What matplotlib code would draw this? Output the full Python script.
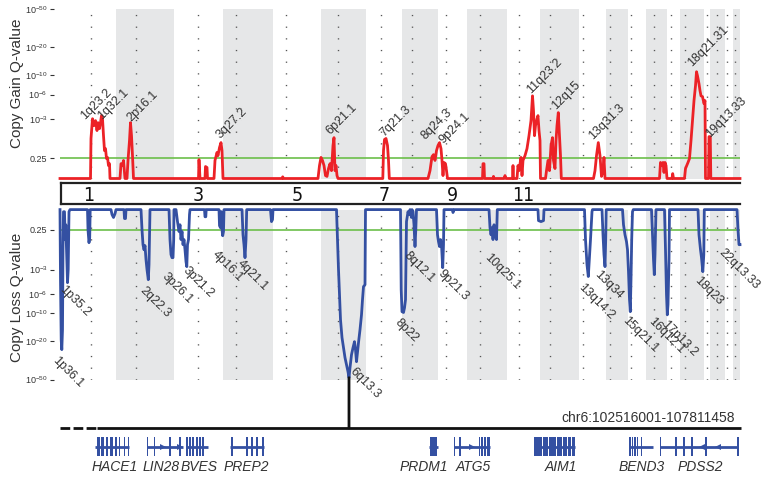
import numpy as np
import matplotlib
matplotlib.use('Agg')
import matplotlib.pyplot as plt
import matplotlib.transforms as mtransforms
from matplotlib.patches import Rectangle, ConnectionPatch

plt.rcParams['font.family'] = ['Liberation Sans', 'DejaVu Sans']

# genome layout (cumulative marker position)
chrom_names = [str(i) for i in range(1, 23)]
chrom_start = [0, 54, 112, 161, 211, 259, 304, 340, 376, 405, 445, 478,
               517, 544, 566, 584, 605, 618, 642, 648, 663, 671]
genome_end = 678
centromeres = [28.7, 74, 136.3, 174, 224, 276, 319, 350, 384, 418, 457, 488,
               521, 547.5, 569, 592.4, 609, 623, 644.7, 654.7, 665, 673]
labelled_chroms = ['1', '3', '5', '7', '9', '11']

# GISTIC q-values, stored as -log10(q)
gain_pos = [-2, 28.5, 29, 30.5, 32, 33.5, 35, 36, 37.5, 38.5, 39.5, 40.5, 41.5, 42.5, 43.5,
            44.5, 45.5, 46.5, 47.5, 48,
            58, 59, 60.5, 61.5, 63, 65, 66, 67.5, 68.5, 69.5, 70.5, 71.5,
            136.5, 137, 138, 143, 143.5, 145, 145.5, 152, 153, 155, 156, 157.5, 159, 160, 161,
            220, 220.7, 221.5,
            256, 257.5, 259, 260.5, 262, 263.5, 265, 266.5, 268, 269.5, 271, 272, 273, 274, 275, 276,
            320.8, 321.5, 322.5, 324, 325.5, 326.5, 327.3,
            366, 368, 370, 371.5, 373, 374.5, 376, 377.5, 379, 380, 381, 382, 383.5, 384.5, 385.5,
            420.5, 421, 422, 422.5, 431, 431.5, 432, 442, 443, 444,
            450.5, 451, 451.5, 455, 456, 457, 459, 460, 461, 463, 465, 467, 469, 470.5, 471.5,
            472.5, 473.5, 475, 476, 477, 478, 478.5,
            483.5, 484.5, 486, 487.5, 489, 490.5, 491.5, 493, 494, 495, 496.3, 497.5, 498.5, 499.3,
            531.5, 533, 534.5, 536.3, 538, 539.5, 541, 542, 543,
            597.5, 598.5, 600, 601, 602, 603, 604, 605, 610, 610.7, 611.5,
            622.5, 623.5, 626, 627.5, 629, 630.5, 632, 633.5, 634.5, 635.5, 637, 638, 639, 640.5,
            642, 643, 643.5,
            646.5, 647, 648.3, 648.8, 678]
gain_val = [0, 0, 1.53, 3.0, 2.41, 2.83, 2.04, 2.65, 2.18, 2.65, 3.30, 3.0, 1.70, 0.91, 1.0,
            0.59, 0.63, 0.35, 0.41, 0,
            0, 0.41, 0.35, 0.52, 0, 0, 0.52, 1.41, 2.65, 1.70, 0.70, 0,
            0, 0.55, 0, 0, 0.32, 0.29, 0, 0, 0.52, 0.83, 0.70, 1.05, 1.30, 0.91, 0,
            0, 0.04, 0,
            0, 0.35, 0.63, 0.52, 0.35, 0.07, 0.05, 0.26, 0.41, 0.20, 1.15, 1.58, 0.20, 0.35, 0.07, 0,
            0, 0.91, 1.47, 1.53, 1.15, 0.52, 0,
            0, 0.20, 0.66, 0.74, 0.52, 0.91, 1.15, 1.30, 1.0, 0.52, 0.07, 0.45, 0.41, 0.20, 0,
            0, 0.41, 0.41, 0, 0, 0.05, 0, 0, 0.07, 0,
            0, 0.35, 0, 0, 0.35, 0.20, 0.63, 0.07, 0.52, 0.70, 1.0, 1.70, 2.83, 5.80, 3.82,
            1.70, 2.41, 3.0, 3.30, 2.04, 1.41, 0,
            0, 0.20, 0.52, 0.20, 1.15, 1.58, 0.52, 0.26, 1.41, 2.41, 3.61, 1.70, 0.70, 0,
            0, 0.20, 0.70, 1.30, 0.70, 0.05, 0.20, 0.63, 0,
            0, 0.45, 0.35, 0.45, 0.15, 0.45, 0.35, 0, 0, 0.12, 0,
            0, 0.26, 0.45, 0.59, 1.41, 2.83, 5.09, 7.6, 10.9, 9.8, 8.0, 6.67, 5.80, 5.67,
            4.68, 5.09, 0,
            0, 1.64, 1.64, 0, 0]

loss_pos = [-2, -1.5, -0.8, -0.2, 0.5, 1, 1.5, 2.5, 3.2, 3.8, 4.5, 5.5, 6.2, 7, 8,
            25.5, 26, 27, 27.7, 28.2,
            49, 50, 51.5, 53, 54, 62, 62.5, 63.5, 64,
            79, 80, 81, 82, 83, 84, 85, 86.3, 87, 88,
            107, 108, 109, 110, 111, 111.7, 112,
            114, 115.5, 117, 118, 119, 120, 121, 122, 123, 124, 124.8, 125.5, 126.5, 127.5, 128,
            142.5, 143, 143.8, 144.2,
            157, 157.5, 158.5, 159, 159.5, 160, 160.7, 161.5, 162,
            180, 181, 182, 183, 184, 184.7,
            208.5, 209.5, 210.5, 211,
            274.5, 275.5, 276.5, 277.5, 278.5, 280, 281.5, 283, 284.5, 286, 287, 288, 289.5, 291,
            292.5, 293.5, 294.5, 295.5, 296.5, 298, 299.5, 300.5, 301.5, 303, 303.5,
            338.5, 339.2, 340, 341.5, 342.5, 343.5, 344.5, 346, 347, 348, 349.5, 350, 351, 352,
            353, 353.8, 354.5,
            374.5, 375.5, 376.5, 377.5, 378.5, 379.5, 380.7, 381.5, 382, 390.5, 391, 392,
            427, 428, 429, 430, 431, 432, 433, 434.5, 435.3,
            476, 476.5, 479, 481.5, 482,
            522.5, 523.5, 525, 526.3, 527.3, 528.5, 530, 530.5,
            540, 541, 542, 543, 543.7, 544.2,
            560.5, 561.5, 563, 564.5, 565.5, 566.5, 567.5, 568.3, 569, 569.7, 570.5, 571.3,
            589.5, 590.5, 591.5, 592.3, 593, 594,
            602.5, 603.5, 604.5, 605.3, 606, 607, 607.5,
            636, 637, 638.5, 639.5, 640.8, 641.8, 642.3,
            675, 676, 677, 678]
loss_val = [0, 4.06, 19.3, 24.5, 15.1, 1.53, 0.05, 0.05, 1.0, 0.42, 1.53, 4.42, 3.0, 0.05, 0,
            0, 0.59, 1.15, 0.91, 0,
            0, 0.12, 0.20, 0.10, 0, 0, 0.23, 0.23, 0,
            0, 0.59, 1.25, 1.53, 1.30, 2.18, 3.0, 4.06, 2.58, 0,
            0, 1.0, 1.83, 2.04, 2.04, 1.0, 0,
            0, 0.32, 0.66, 0.42, 1.0, 0.66, 1.25, 1.0, 1.53, 2.33, 2.74, 1.25, 1.0, 0.12, 0,
            0, 0.18, 0.18, 0,
            0, 0.45, 0.52, 0.05, 0.05, 0.59, 0.83, 0.66, 0,
            0, 0.79, 1.25, 2.04, 1.0, 0,
            0, 0.32, 0.26, 0,
            0, 1.0, 3.0, 6.16, 11.75, 18.3, 23.4, 29.7, 35.1, 41.5, 47.8, 37.7, 27.7, 23.4,
            20.2, 24.5, 32.7, 25.7, 20.7, 15.1, 10.4, 7.03, 4.94, 4.68, 0,
            0, 5.36, 9.6, 9.8, 8.7, 7.03, 0.32, 0.05, 0.12, 0, 0.20, 0, 0.05, 0.42,
            1.35, 0.59, 0,
            0, 0.79, 1.10, 1.35, 1.0, 1.25, 2.83, 1.25, 0, 0, 0.07, 0,
            0, 0.52, 0.79, 0.52, 1.0, 0.42, 0.66, 1.0, 0,
            0, 0.29, 0.32, 0.29, 0,
            0, 1.0, 2.58, 3.70, 2.18, 1.0, 0.05, 0,
            0, 0.79, 1.83, 2.74, 1.0, 0,
            0, 0.42, 0.79, 1.10, 1.53, 3.20, 7.03, 9.6, 4.06, 1.0, 0.05, 0,
            0, 0.79, 2.18, 3.50, 1.83, 0,
            0, 1.53, 6.16, 10.4, 8.0, 2.18, 0,
            0, 0.79, 1.53, 2.04, 3.20, 1.83, 0,
            0, 0.59, 1.25, 1.25]

# peak cytoband labels (position, -log10 q)
gain_labels = ['1q23.2', '1q32.1', '2p16.1', '3q27.2', '6p21.1', '7q21.3', '8q24.3',
               '9p24.1', '11q23.2', '12q15', '13q31.3', '18q21.31', '19q13.33']
gain_label_pos = [23, 40, 69, 158, 268, 322, 363, 381, 469, 494, 531, 630, 648]
gain_label_val = [2.92, 2.92, 2.74, 1.53, 1.77, 1.64, 1.47, 1.25, 6.16, 3.94, 1.47, 12.36, 1.58]

loss_labels = ['1p36.1', '1p35.2', '2q22.3', '3p26.1', '3p21.2', '4p16.1', '4q21.1', '6q13.3',
               '8p22', '8q12.1', '9p21.3', '10q25.1', '13q14.2', '13q34', '15q21.1',
               '16q12.1', '17p13.2', '18q23', '22q13.33']
loss_label_pos = [-3, 4, 84, 106, 127, 156, 181, 294, 339, 348, 382, 429, 523, 539, 567,
                  593, 606, 639, 663]
loss_label_val = [27.7, 4.54, 4.68, 3.10, 2.58, 1.47, 2.04, 35.9, 10.9, 1.53, 2.83, 1.64,
                  4.29, 2.92, 10.4, 10.6, 11.46, 3.50, 1.35]

q_ticks = [0.25, 1e-3, 1e-6, 1e-10, 1e-20, 1e-50]
q_tick_labels = ['0.25', r'10$^{\mathregular{-3}}$', r'10$^{\mathregular{-6}}$',
                 r'10$^{\mathregular{-10}}$', r'10$^{\mathregular{-20}}$', r'10$^{\mathregular{-50}}$']

# 6q13.3 region (Mb)
region_chrom = 'chr6'
region_start = 102.516001
region_end = 107.811458
gene_names = ['HACE1', 'LIN28', 'BVES', 'PREP2', 'PRDM1', 'ATG5', 'AIM1', 'BEND3', 'PDSS2']
gene_start = [102.500, 102.931, 103.248, 103.610, 105.245, 105.450, 106.112, 106.897, 107.150]
gene_end = [102.779, 103.221, 103.431, 103.889, 105.318, 105.748, 106.447, 107.086, 107.790]
gene_exons = [
    [(102.513, 102.537), (102.549, 102.574), (102.586, 102.607), (102.619, 102.650),
     (102.668, 102.680), (102.697, 102.708), (102.734, 102.745), (102.768, 102.779)],
    [(102.929, 102.939), (102.983, 102.993), (103.111, 103.121), (103.194, 103.204)],
    [(103.246, 103.262), (103.273, 103.289), (103.300, 103.316), (103.328, 103.344),
     (103.355, 103.371), (103.377, 103.393)],
    [(103.621, 103.637), (103.739, 103.755), (103.785, 103.801), (103.826, 103.842),
     (103.876, 103.891)],
    [(105.252, 105.312)],
    [(105.448, 105.458), (105.496, 105.506), (105.655, 105.665), (105.677, 105.687),
     (105.701, 105.711), (105.726, 105.736), (105.741, 105.750)],
    [(106.112, 106.175), (106.184, 106.225), (106.233, 106.290), (106.303, 106.340),
     (106.348, 106.381), (106.389, 106.418), (106.426, 106.447)],
    [(106.895, 106.906), (106.915, 106.926), (106.936, 106.947), (106.956, 106.967),
     (106.989, 107.000)],
    [(107.148, 107.158), (107.273, 107.283), (107.338, 107.348), (107.404, 107.414),
     (107.519, 107.529), (107.782, 107.792)],
]
gene_arrows = [[], [(103.059, '>'), (103.199, '>')], [], [], [], [(105.597, '>')], [], [],
               [(107.489, '<'), (107.625, '<')]]
gene_label_pos = [102.664, 103.042, 103.355, 103.747, 105.203, 105.608, 106.328, 106.998, 107.475]

RED = '#ec2227'
BLUE = '#3450a2'
GREEN = '#6cbf4a'
BAND = '#e6e7e8'
TEXT = '#333333'

W, H = 766, 478
fig = plt.figure(figsize=(W / 100, H / 100), dpi=100)


def px_axes(x0, y0, x1, y1):
    return fig.add_axes([x0 / W, 1 - y1 / H, (x1 - x0) / W, (y1 - y0) / H])


ax_gain = px_axes(60, 9, 740, 178.5)
ax_chr = px_axes(61, 183, 740, 204)
ax_loss = px_axes(60, 209.6, 740, 379.6)
ax_gene = px_axes(60, 378, 742, 478)

chrom_end = chrom_start[1:] + [genome_end]


def fwd(v):
    return np.log10(1 + np.asarray(v, dtype=float))


def inv(y):
    return 10 ** np.asarray(y, dtype=float) - 1


for ax in (ax_gain, ax_loss):
    ax.set_yscale('function', functions=(fwd, inv))
    ax.set_xlim(-2, genome_end)
    for i, (s, e) in enumerate(zip(chrom_start, chrom_end)):
        if i % 2 == 1:
            ax.axvspan(s, e, color=BAND, lw=0, zorder=0)
    for c in centromeres:
        ax.axvline(c, color='#555555', lw=1.0, ls=(0, (0.9, 7.5)), zorder=1)
    ax.axhline(-np.log10(0.25), color=GREEN, lw=1.2, zorder=2)
    ax.set_yticks(-np.log10(q_ticks))
    ax.set_yticklabels(q_tick_labels)
    ax.tick_params(axis='y', length=3, width=0.8, pad=2, labelsize=6.5, colors=TEXT)
    ax.tick_params(axis='x', bottom=False, labelbottom=False)
    ax.yaxis.set_minor_locator(plt.NullLocator())
    for side in ('top', 'right', 'bottom'):
        ax.spines[side].set_visible(False)
    ax.spines['left'].set_position(('outward', 4))
    ax.spines['left'].set_visible(False)
    ax.patch.set_alpha(0)

ax_gain.set_ylim(0, 50)
ax_loss.set_ylim(50, 0)

ax_gain.plot(gain_pos, gain_val, color=RED, lw=2.0, zorder=3, clip_on=False,
             solid_joinstyle='round')
ax_loss.plot(loss_pos, loss_val, color=BLUE, lw=2.0, zorder=3, clip_on=False,
             solid_joinstyle='round')

for lab, x, v in zip(gain_labels, gain_label_pos, gain_label_val):
    ax_gain.text(x, v, lab, rotation=45, rotation_mode='anchor', ha='left', va='baseline',
                 fontsize=9, color=TEXT, clip_on=False, zorder=4)
for lab, x, v in zip(loss_labels, loss_label_pos, loss_label_val):
    ax_loss.text(x, v, lab, rotation=-45, rotation_mode='anchor', ha='left', va='top',
                 fontsize=9, color=TEXT, clip_on=False, zorder=4)

fig.text(17 / W, 1 - 83 / H, 'Copy Gain Q-value', rotation=90, ha='center', va='center',
         fontsize=11, color=TEXT)
fig.text(17 / W, 1 - 297 / H, 'Copy Loss Q-value', rotation=90, ha='center', va='center',
         fontsize=11, color=TEXT)

# chromosome strip
ax_chr.set_xlim(-1, genome_end)
ax_chr.set_ylim(0, 1)
ax_chr.set_xticks([])
ax_chr.set_yticks([])
ax_chr.spines['right'].set_visible(False)
for sp in ax_chr.spines.values():
    sp.set_linewidth(1.6)
    sp.set_color('#222222')
for name, s, e in zip(chrom_names, chrom_start, chrom_end):
    if name in labelled_chroms:
        ax_chr.text((s + e) / 2, 0.4, name, ha='center', va='center', fontsize=14,
                    family='DejaVu Sans', fontstretch='condensed', color='#111111')

# gene track for the 6q13.3 minimal region
ax_gene.set_xlim(102.2117, 107.8203)
ax_gene.set_ylim(478, 378)
ax_gene.axis('off')
ax_gene.patch.set_alpha(0)
backbone_y = 428
ax_gene.plot([102.2117, region_start], [backbone_y, backbone_y], color='#111111', lw=2,
             ls=(0, (3.5, 1.2)), solid_capstyle='butt')
ax_gene.plot([region_start, region_end], [backbone_y, backbone_y], color='#111111', lw=2,
             solid_capstyle='butt')
ax_gene.annotate(f'{region_chrom}:{int(region_start * 1e6)}-{int(region_end * 1e6)}',
                 xy=(region_end, backbone_y), xytext=(-4, 2.5), textcoords='offset points',
                 ha='right', va='bottom', fontsize=10, color=TEXT)

y0, y1 = 437, 456
ymid = (y0 + y1) / 2
for name, s, e, exons, arrows, lx in zip(gene_names, gene_start, gene_end, gene_exons,
                                         gene_arrows, gene_label_pos):
    ax_gene.plot([s, e], [ymid, ymid], color=BLUE, lw=2, solid_capstyle='butt')
    for es, ee in exons:
        ax_gene.add_patch(Rectangle((es, y0), ee - es, y1 - y0, color=BLUE, lw=0))
    for ax_x, mk in arrows:
        ax_gene.plot(ax_x, ymid, marker=mk, color=BLUE, ms=5, mew=0)
    ax_gene.text(lx, 467, name, style='italic', ha='center', va='center', fontsize=10,
                 color=TEXT)

# connector from the deepest deletion peak to the region
imin = int(np.argmax(loss_val))
blend = mtransforms.blended_transform_factory(ax_loss.transData, ax_gene.transData)
con = ConnectionPatch(xyA=(loss_pos[imin], loss_val[imin]), coordsA=ax_loss.transData,
                      xyB=(loss_pos[imin], backbone_y), coordsB=blend,
                      color='#111111', lw=2)
fig.add_artist(con)

fig.savefig('out.png', dpi=100)
